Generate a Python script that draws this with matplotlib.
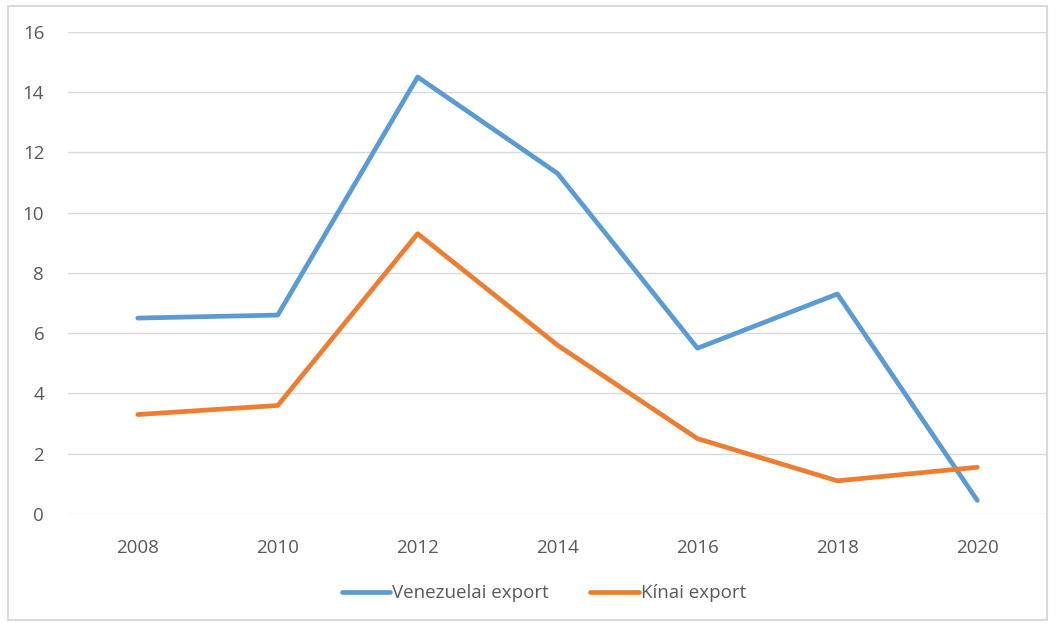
import matplotlib
matplotlib.use('Agg')
import matplotlib.pyplot as plt
from matplotlib.patches import Rectangle

# adatok
years = ['2008', '2010', '2012', '2014', '2016', '2018', '2020']
venezuela = [6.5, 6.6, 14.5, 11.3, 5.5, 7.3, 0.45]
china = [3.3, 3.6, 9.3, 5.6, 2.5, 1.1, 1.55]

plt.rcParams['font.family'] = ['Open Sans', 'DejaVu Sans']
txt = '#595959'

fig = plt.figure(figsize=(10.6, 6.23), dpi=100)
ax = fig.add_axes([0.064, 0.175, 0.924, 0.774])

x = list(range(len(years)))
ax.plot(x, venezuela, color='#5b9bd5', lw=3.4, label='Venezuelai export', solid_capstyle='round')
ax.plot(x, china, color='#ed7d31', lw=3.4, label='Kínai export', solid_capstyle='round')

ax.set_xlim(-0.5, 6.5)
ax.set_ylim(0, 16)
ax.set_yticks(range(0, 17, 2))
ax.set_xticks(x)
ax.set_xticklabels(years)
ax.yaxis.grid(True, color='#d9d9d9', lw=1)
ax.set_axisbelow(True)
for s in ax.spines.values():
    s.set_visible(False)
ax.tick_params(length=0, labelsize=13.5, colors=txt)
ax.tick_params(axis='y', pad=17)
ax.tick_params(axis='x', pad=18)

leg = fig.legend(loc='center', bbox_to_anchor=(0.513, 0.048), ncol=2, frameon=False,
                 fontsize=13.5, handlelength=2.6, columnspacing=2.2, handletextpad=0.1)
for t in leg.get_texts():
    t.set_color(txt)

# keret
fig.patches.append(Rectangle((0.008, 0.005), 0.98, 0.985, transform=fig.transFigure,
                             fill=False, edgecolor='#d9d9d9', lw=1.5))

plt.savefig('out.png', dpi=100)
